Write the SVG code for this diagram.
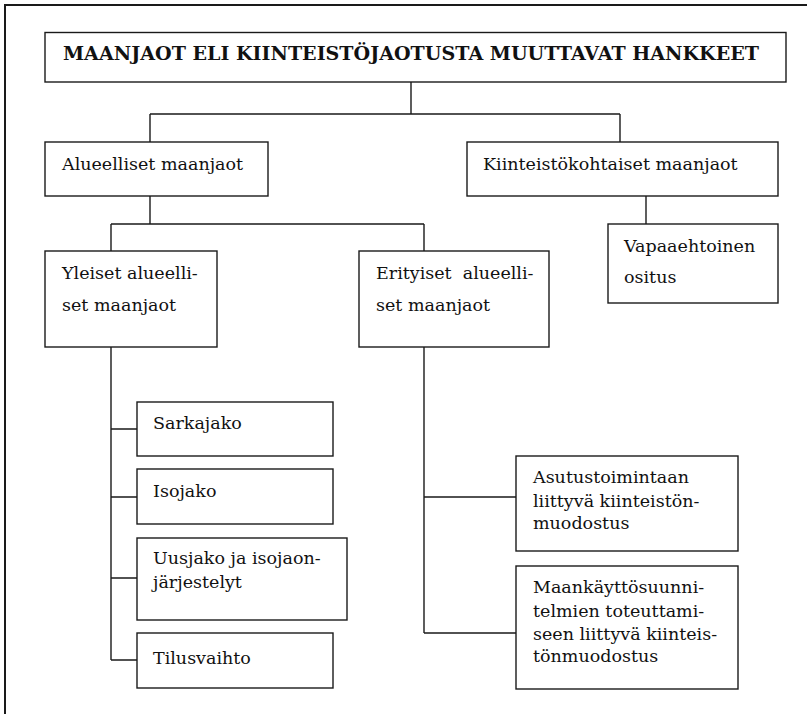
<svg xmlns="http://www.w3.org/2000/svg" width="807" height="714" viewBox="0 0 807 714">
<style>
.box{fill:#fff;stroke:#1a1a1a;stroke-width:1.4}
.t{font-family:"DejaVu Serif","Liberation Serif",serif;font-size:17.5px;fill:#111}
.title{font-family:"DejaVu Serif","Liberation Serif",serif;font-size:19px;font-weight:bold;fill:#111}
.conn{fill:none;stroke:#1a1a1a;stroke-width:1.4}
</style>
<rect x="0" y="0" width="807" height="714" fill="#fff"/>
<path d="M5 714 V5 H807" fill="none" stroke="#1a1a1a" stroke-width="2"/>
<g id="connectors" class="conn">
<path d="M411 82 V114 M150 114 H620 M150 114 V142 M620 114 V142"/>
<path d="M150 196 V224 M111 224 H424 M111 224 V251 M424 224 V251"/>
<path d="M646 196 V224"/>
<path d="M111 347 V660 M111 429 H137 M111 497 H137 M111 578 H137 M111 660 H137"/>
<path d="M424 347 V633 M424 497 H516 M424 633 H516"/>
</g>
<g id="title">
<rect class="box" x="45" y="32.5" width="741" height="49.5"/>
<text class="title" x="63" y="60" textLength="696" lengthAdjust="spacingAndGlyphs">MAANJAOT ELI KIINTEISTÖJAOTUSTA MUUTTAVAT HANKKEET</text>
</g>
<g id="alueelliset">
<rect class="box" x="45" y="142" width="223" height="54"/>
<text class="t" x="62" y="170">Alueelliset maanjaot</text>
</g>
<g id="kiinteistokohtaiset">
<rect class="box" x="467" y="142" width="311" height="54"/>
<text class="t" x="483" y="170">Kiinteistökohtaiset maanjaot</text>
</g>
<g id="yleiset">
<rect class="box" x="45" y="251" width="172" height="96"/>
<text class="t" x="62" y="279">Yleiset alueelli-</text>
<text class="t" x="62" y="311">set maanjaot</text>
</g>
<g id="erityiset">
<rect class="box" x="359" y="251" width="190" height="96"/>
<text class="t" x="376" y="279" xml:space="preserve">Erityiset  alueelli-</text>
<text class="t" x="376" y="311">set maanjaot</text>
</g>
<g id="vapaaehtoinen">
<rect class="box" x="608" y="224" width="170" height="79"/>
<text class="t" x="624" y="252">Vapaaehtoinen</text>
<text class="t" x="624" y="283">ositus</text>
</g>
<g id="sarkajako">
<rect class="box" x="137" y="402" width="196" height="54"/>
<text class="t" x="153" y="429">Sarkajako</text>
</g>
<g id="isojako">
<rect class="box" x="137" y="469" width="196" height="55"/>
<text class="t" x="153" y="497">Isojako</text>
</g>
<g id="uusjako">
<rect class="box" x="137" y="538" width="210" height="82"/>
<text class="t" x="153" y="564">Uusjako ja isojaon-</text>
<text class="t" x="153" y="588">järjestelyt</text>
</g>
<g id="tilusvaihto">
<rect class="box" x="137" y="633" width="196" height="55"/>
<text class="t" x="153" y="664">Tilusvaihto</text>
</g>
<g id="asutus">
<rect class="box" x="516" y="456" width="222" height="95"/>
<text class="t" x="533" y="483">Asutustoimintaan</text>
<text class="t" x="533" y="506.5">liittyvä kiinteistön-</text>
<text class="t" x="533" y="529">muodostus</text>
</g>
<g id="maankaytto">
<rect class="box" x="516" y="566" width="222" height="123"/>
<text class="t" x="533" y="593">Maankäyttösuunni-</text>
<text class="t" x="533" y="617">telmien toteuttami-</text>
<text class="t" x="533" y="640">seen liittyvä kiinteis-</text>
<text class="t" x="533" y="662">tönmuodostus</text>
</g>
</svg>
